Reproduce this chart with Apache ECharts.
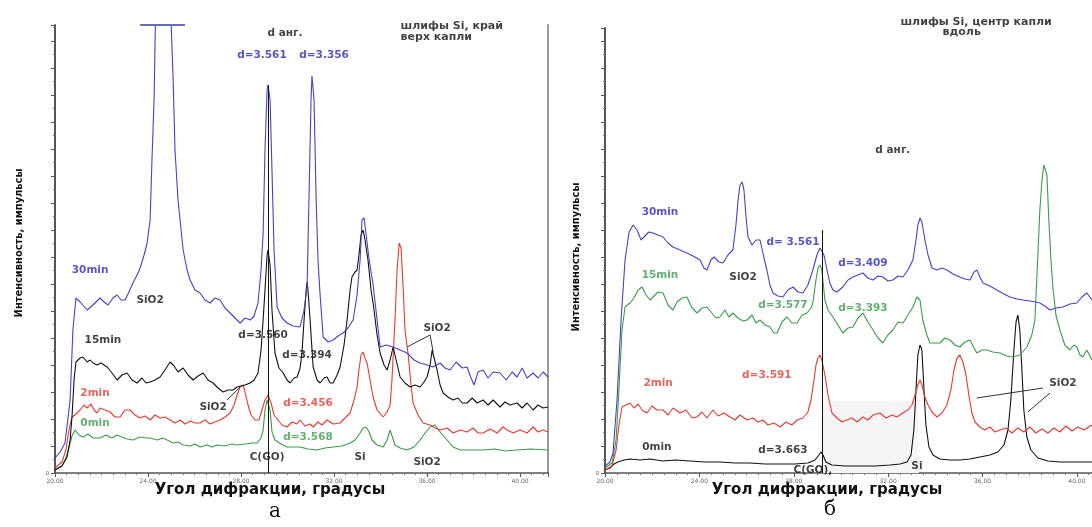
<!DOCTYPE html>
<html><head><meta charset="utf-8">
<script src="https://cdn.jsdelivr.net/npm/echarts@6/dist/echarts.min.js"></script>
<style>html,body{margin:0;padding:0;background:#fff}#c{width:1092px;height:527px}</style>
</head><body><div id="c"></div>
<script>
// ---------- DATA (2θ in degrees, intensity in arbitrary units) ----------
const xTickLabels = ['20.00','24.00','28.00','32.00','36.00','40.00'];

// Panel а (left): шлифы Si, край, верх капли
const L_30min = [[20.00,15],[20.22,21],[20.43,30],[20.65,73],[20.77,143],[20.90,175],[21.08,171],[21.38,163],[21.63,168],[21.94,175],[22.11,171],[22.28,168],[22.49,175],[22.67,178],[22.84,173],[23.01,173],[23.18,181],[23.35,190],[23.53,198],[23.66,205],[23.83,218],[23.96,230],[24.09,253],[24.17,313],[24.26,373],[24.34,480],[24.60,520],[24.95,480],[25.08,393],[25.16,323],[25.29,273],[25.51,223],[25.68,203],[25.81,193],[26.02,183],[26.24,180],[26.45,173],[26.67,170],[26.88,175],[27.10,173],[27.31,165],[27.53,160],[27.74,155],[27.96,150],[28.17,155],[28.39,153],[28.56,157],[28.73,170],[28.86,203],[28.95,240],[29.03,323],[29.12,383],[29.16,388],[29.25,373],[29.33,303],[29.42,223],[29.55,166],[29.76,155],[29.98,150],[30.24,147],[30.54,146],[30.71,163],[30.84,186],[30.92,273],[31.01,373],[31.05,397],[31.14,373],[31.23,273],[31.31,213],[31.40,178],[31.53,136],[31.74,131],[31.96,133],[32.17,137],[32.39,140],[32.60,145],[32.82,153],[32.99,178],[33.12,213],[33.20,253],[33.29,255],[33.38,238],[33.51,213],[33.68,188],[33.85,153],[33.98,126],[34.24,128],[34.54,126],[34.84,123],[35.14,120],[35.44,113],[35.70,110],[36.00,108],[36.26,106],[36.56,110],[36.77,105],[36.99,103],[37.25,111],[37.51,105],[37.72,106],[37.89,95],[38.02,88],[38.19,101],[38.41,103],[38.62,95],[38.84,101],[39.14,100],[39.40,93],[39.66,101],[39.87,96],[40.09,105],[40.30,95],[40.56,100],[40.77,95],[40.99,101],[41.20,96]];
const L_15min = [[20.00,3],[20.30,7],[20.52,16],[20.65,33],[20.73,56],[20.82,93],[20.90,111],[21.08,115],[21.20,116],[21.38,111],[21.51,113],[21.63,110],[21.81,108],[21.98,110],[22.24,106],[22.45,100],[22.67,93],[22.88,98],[23.10,100],[23.31,93],[23.53,90],[23.74,95],[23.91,90],[24.09,91],[24.30,93],[24.52,96],[24.73,103],[24.95,111],[25.12,107],[25.29,101],[25.51,105],[25.72,98],[25.94,93],[26.15,97],[26.37,100],[26.58,93],[26.80,90],[27.01,85],[27.23,81],[27.44,83],[27.66,83],[27.83,86],[28.00,87],[28.17,88],[28.39,90],[28.56,93],[28.73,100],[28.86,123],[28.95,153],[29.03,183],[29.12,218],[29.16,223],[29.25,208],[29.33,163],[29.46,120],[29.63,105],[29.81,100],[29.98,93],[30.11,90],[30.28,95],[30.41,96],[30.54,105],[30.62,120],[30.71,153],[30.80,183],[30.84,191],[30.88,183],[30.97,153],[31.10,106],[31.27,93],[31.40,90],[31.57,95],[31.70,96],[31.83,90],[31.96,90],[32.13,98],[32.26,106],[32.43,128],[32.56,153],[32.69,183],[32.77,196],[32.90,201],[32.99,203],[33.07,218],[33.16,238],[33.25,243],[33.33,233],[33.46,213],[33.59,183],[33.68,170],[33.85,138],[33.98,120],[34.15,108],[34.28,103],[34.41,113],[34.54,126],[34.67,113],[34.84,96],[35.05,90],[35.27,86],[35.48,88],[35.70,86],[35.87,91],[36.00,96],[36.13,108],[36.22,123],[36.30,121],[36.43,103],[36.56,88],[36.69,80],[36.90,76],[37.12,73],[37.33,75],[37.51,70],[37.72,70],[37.94,75],[38.15,70],[38.41,73],[38.62,68],[38.84,73],[39.14,66],[39.35,71],[39.57,68],[39.87,70],[40.09,65],[40.30,70],[40.56,63],[40.77,68],[40.99,65],[41.20,66]];
const L_2min = [[20.00,5],[20.30,11],[20.47,23],[20.60,43],[20.73,56],[20.86,58],[21.08,63],[21.25,68],[21.38,65],[21.55,69],[21.68,63],[21.81,60],[21.94,65],[22.15,63],[22.37,61],[22.58,56],[22.80,56],[23.01,63],[23.23,63],[23.44,58],[23.66,55],[23.87,57],[24.09,53],[24.30,58],[24.52,55],[24.73,56],[24.95,53],[25.16,50],[25.38,53],[25.59,49],[25.81,52],[26.02,50],[26.24,50],[26.45,53],[26.67,49],[26.88,51],[27.10,53],[27.31,56],[27.53,60],[27.70,68],[27.83,78],[27.96,86],[28.09,88],[28.17,81],[28.30,68],[28.43,58],[28.60,53],[28.77,53],[28.90,63],[29.03,73],[29.16,78],[29.29,70],[29.42,58],[29.59,53],[29.76,48],[29.98,46],[30.19,51],[30.41,49],[30.54,53],[30.75,47],[30.97,49],[31.10,46],[31.31,51],[31.48,48],[31.70,53],[31.96,49],[32.26,50],[32.47,55],[32.69,60],[32.86,73],[32.99,86],[33.07,103],[33.16,118],[33.25,121],[33.33,115],[33.42,110],[33.55,93],[33.68,76],[33.85,63],[34.11,56],[34.28,61],[34.41,68],[34.49,93],[34.62,153],[34.71,203],[34.80,230],[34.88,225],[34.97,186],[35.05,143],[35.18,120],[35.31,88],[35.40,70],[35.61,58],[35.83,50],[36.13,48],[36.34,45],[36.56,43],[36.86,45],[37.12,40],[37.42,43],[37.72,41],[37.98,45],[38.19,40],[38.41,40],[38.71,44],[39.01,40],[39.27,46],[39.44,43],[39.70,40],[40.00,43],[40.30,40],[40.56,46],[40.77,41],[40.99,43],[41.20,41]];
const L_0min = [[20.00,3],[20.30,7],[20.47,15],[20.60,25],[20.73,37],[20.86,43],[21.03,38],[21.20,36],[21.42,39],[21.63,35],[21.94,35],[22.19,38],[22.45,35],[22.67,38],[22.88,36],[23.10,34],[23.35,33],[23.66,36],[23.91,35],[24.09,35],[24.39,33],[24.65,35],[24.82,33],[25.08,30],[25.29,31],[25.51,28],[25.81,27],[26.02,29],[26.24,26],[26.54,28],[26.75,26],[26.97,28],[27.31,27],[27.61,29],[27.83,28],[28.17,29],[28.47,30],[28.69,30],[28.86,35],[28.95,43],[29.03,63],[29.12,73],[29.16,75],[29.25,63],[29.33,41],[29.46,33],[29.72,29],[29.98,26],[30.28,26],[30.54,26],[30.88,24],[31.27,23],[31.61,25],[31.96,26],[32.34,27],[32.69,30],[32.90,33],[33.12,40],[33.25,45],[33.38,46],[33.51,41],[33.63,33],[33.85,28],[34.11,26],[34.28,33],[34.41,43],[34.49,41],[34.62,28],[34.84,25],[35.14,23],[35.44,26],[35.70,33],[35.91,40],[36.13,46],[36.34,48],[36.56,41],[36.86,33],[37.12,26],[37.42,23],[37.85,23],[38.41,23],[38.92,24],[39.35,22],[39.87,23],[40.43,24],[41.20,23]];

// Panel б (right): шлифы Si, центр капли, вдоль
const R_30min = [[20.00,7],[20.21,11],[20.34,20],[20.51,73],[20.68,153],[20.85,213],[21.02,241],[21.19,248],[21.36,243],[21.53,233],[21.69,237],[21.86,241],[22.03,240],[22.25,238],[22.46,236],[22.67,230],[22.88,226],[23.18,223],[23.47,220],[23.73,217],[24.03,213],[24.19,205],[24.32,203],[24.49,213],[24.62,216],[24.83,211],[25.00,210],[25.21,218],[25.42,223],[25.55,248],[25.64,273],[25.72,288],[25.81,291],[25.89,283],[25.97,258],[26.06,236],[26.23,228],[26.40,233],[26.57,233],[26.74,215],[26.86,203],[26.99,188],[27.12,180],[27.33,177],[27.54,176],[27.75,183],[27.97,186],[28.18,181],[28.39,180],[28.60,188],[28.81,203],[28.98,218],[29.11,225],[29.19,226],[29.28,218],[29.41,203],[29.53,190],[29.66,183],[29.83,181],[30.08,186],[30.30,193],[30.51,196],[30.72,198],[30.93,200],[31.14,195],[31.36,193],[31.57,197],[31.78,196],[31.99,192],[32.20,193],[32.42,197],[32.63,196],[32.84,203],[33.05,213],[33.18,233],[33.26,248],[33.35,255],[33.43,251],[33.56,233],[33.69,218],[33.86,205],[34.07,203],[34.28,205],[34.49,203],[34.75,199],[35.04,196],[35.25,194],[35.47,193],[35.64,201],[35.76,203],[35.89,196],[36.02,190],[36.31,187],[36.61,183],[36.91,179],[37.16,176],[37.46,174],[37.71,173],[38.01,172],[38.26,171],[38.43,170],[38.64,167],[38.86,163],[39.11,165],[39.41,166],[39.70,169],[40.00,170],[40.21,176],[40.42,180],[40.64,173]];
const R_15min = [[20.00,5],[20.30,10],[20.47,33],[20.59,83],[20.72,143],[20.85,166],[21.06,170],[21.23,175],[21.40,183],[21.57,186],[21.74,178],[21.91,173],[22.08,177],[22.25,181],[22.46,180],[22.67,168],[22.88,163],[23.05,171],[23.26,175],[23.47,176],[23.69,165],[23.90,160],[24.11,165],[24.32,166],[24.53,160],[24.70,155],[24.87,156],[25.08,163],[25.25,156],[25.42,160],[25.64,155],[25.85,152],[26.02,153],[26.23,158],[26.40,150],[26.57,153],[26.78,148],[26.99,146],[27.16,140],[27.29,140],[27.50,151],[27.71,156],[27.92,150],[28.14,150],[28.35,158],[28.56,160],[28.73,165],[28.81,170],[28.94,193],[29.03,205],[29.11,208],[29.19,203],[29.32,173],[29.45,163],[29.66,156],[29.87,148],[30.08,140],[30.30,145],[30.51,146],[30.72,155],[30.93,160],[31.14,151],[31.36,143],[31.57,135],[31.78,130],[31.99,138],[32.20,143],[32.42,151],[32.63,150],[32.84,158],[33.05,166],[33.22,176],[33.35,173],[33.47,153],[33.64,138],[33.77,130],[33.98,130],[34.19,130],[34.41,135],[34.62,133],[34.83,128],[35.04,126],[35.25,131],[35.47,133],[35.64,125],[35.76,120],[35.97,123],[36.19,123],[36.44,121],[36.74,120],[37.03,117],[37.29,116],[37.58,118],[37.88,126],[38.09,138],[38.22,153],[38.35,220],[38.43,263],[38.52,293],[38.60,308],[38.64,310],[38.73,298],[38.81,253],[38.90,213],[38.98,186],[39.11,158],[39.28,143],[39.49,128],[39.70,123],[39.87,128],[40.00,126],[40.13,118],[40.25,116],[40.42,123],[40.64,113]];
const R_2min = [[20.00,3],[20.30,7],[20.47,23],[20.59,48],[20.72,66],[20.89,68],[21.06,70],[21.23,65],[21.40,69],[21.57,63],[21.78,60],[21.99,67],[22.20,63],[22.46,63],[22.67,58],[22.88,65],[23.18,60],[23.43,63],[23.69,55],[23.90,56],[24.11,61],[24.32,55],[24.58,63],[24.79,57],[25.04,60],[25.30,56],[25.51,53],[25.72,58],[26.02,53],[26.27,55],[26.48,51],[26.69,53],[26.91,48],[27.16,50],[27.42,46],[27.67,51],[27.92,48],[28.14,53],[28.39,55],[28.60,61],[28.73,73],[28.86,93],[28.94,108],[29.03,115],[29.11,118],[29.19,113],[29.32,98],[29.45,78],[29.62,60],[29.83,55],[30.04,51],[30.25,53],[30.47,55],[30.68,51],[30.93,56],[31.14,53],[31.36,58],[31.65,60],[31.91,55],[32.16,58],[32.37,56],[32.63,60],[32.84,63],[33.01,68],[33.14,78],[33.26,88],[33.35,93],[33.43,88],[33.56,76],[33.69,68],[33.86,61],[34.07,56],[34.28,60],[34.49,68],[34.66,83],[34.79,103],[34.92,115],[35.04,118],[35.17,111],[35.30,98],[35.42,78],[35.55,60],[35.68,51],[35.89,46],[36.10,43],[36.31,46],[36.53,41],[36.74,43],[36.99,45],[37.25,40],[37.50,45],[37.75,41],[38.01,46],[38.26,40],[38.52,44],[38.77,40],[39.03,45],[39.28,41],[39.53,47],[39.79,42],[40.04,46],[40.30,43],[40.64,48]];
const R_0min = [[20.00,3],[20.21,5],[20.38,9],[20.55,11],[20.81,13],[21.06,14],[21.48,13],[21.91,14],[22.46,12],[22.97,13],[23.60,12],[24.24,11],[24.87,11],[25.51,10],[26.14,10],[26.78,9],[27.42,9],[28.05,9],[28.60,10],[28.90,13],[29.07,18],[29.15,21],[29.24,18],[29.36,11],[29.62,8],[30.17,7],[30.81,7],[31.44,7],[32.08,8],[32.50,9],[32.80,11],[32.97,18],[33.09,43],[33.18,83],[33.26,118],[33.35,128],[33.43,123],[33.52,83],[33.60,48],[33.73,26],[33.90,18],[34.19,14],[34.62,13],[35.04,13],[35.47,14],[35.89,16],[36.31,18],[36.65,21],[36.91,28],[37.08,43],[37.20,73],[37.33,123],[37.42,151],[37.50,158],[37.58,143],[37.67,103],[37.75,63],[37.88,36],[38.05,23],[38.35,15],[38.77,12],[39.28,11],[39.92,11],[40.64,11]];

// Reference lines / markers (data coordinates)
const L_refLine = [[29.16,0],[29.16,388]];     // C(GO) reflex line, panel а
const R_refLine = [[29.19,0],[29.19,243]];     // C(GO) reflex line, panel б
const L_capRange = [23.66, 25.59];             // clipped top of the SiO2 peak (30min)
const R_shade = [[29.19,0],[33.30,72]];
const L_pointers = [[[36.13,138],[35.14,126]],[[36.13,138],[36.26,121]],[[27.40,73],[27.96,86]]];
const R_pointers = [[[38.56,85],[35.76,75]],[[38.86,80],[37.92,61]]];

// Annotations [x, y, text, colour key]
const L_notes = [
  [21.51,203,'30min','30min'],[24.09,173,'SiO2','k'],[22.06,133,'15min','15min'],
  [21.72,80,'2min','2min'],[21.72,50,'0min','0min'],
  [28.95,138,'d=3.560','k'],[30.84,118,'d=3.394','k'],[36.43,145,'SiO2','k'],
  [26.80,66,'SiO2','k'],[30.88,70,'d=3.456','2min'],[30.88,36,'d=3.568','0min'],
  [29.12,16,'C(GO)','k'],[33.12,16,'Si','k'],[36.00,11,'SiO2','k'],
  [29.89,440,'d анг.','k'],[28.90,418,'d=3.561','30min'],[31.57,418,'d=3.356','30min']
];
const L_header = [[34.84,447,'шлифы Si, край'],[34.84,436,'верх капли']];
const R_notes = [
  [32.20,323,'d анг.','k'],[22.33,261,'30min','30min'],[27.97,231,'d= 3.561','30min'],
  [30.93,210,'d=3.409','30min'],[22.33,198,'15min','15min'],[25.85,196,'SiO2','k'],
  [27.54,168,'d=3.577','15min'],[30.93,165,'d=3.393','15min'],[26.86,98,'d=3.591','2min'],
  [22.25,90,'2min','2min'],[39.41,90,'SiO2','k'],[22.20,26,'0min','0min'],
  [27.54,23,'d=3.663','0min'],[28.81,3,'C(GO),','k'],[33.22,7,'Si','k']
];
const R_header = [[32.50,451,'шлифы Si, центр капли'],[34.28,441,'вдоль']];

// ---------- STYLE ----------
const BLUE = '#4343c6', BLACK = '#111111', RED = '#e23a32', GREEN = '#3a9c48';
const L_col = {'30min':BLUE,'15min':BLACK,'2min':RED,'0min':GREEN,'k':BLACK};
const R_col = {'30min':BLUE,'15min':GREEN,'2min':RED,'0min':BLACK,'k':BLACK};
const TXT_BLUE = '#2b2bbe';
const FONT = "'DejaVu Sans', 'Liberation Sans', sans-serif";

function xAx(gi, max) {
  return {type:'value', gridIndex:gi, min:20, max:max, interval:4,
    axisLine:{onZero:false, lineStyle:{color:'#555', width:1.5}},
    axisTick:{length:4, lineStyle:{color:'#555'}},
    minorTick:{show:true, splitNumber:8, length:2, lineStyle:{color:'#777'}},
    splitLine:{show:false},
    axisLabel:{fontSize:6, color:'#666', margin:5, showMaxLabel:false, fontFamily:FONT,
      formatter: v => { const i = Math.round((v-20)/4); return (Math.abs(v-20-4*i)<1e-6 && xTickLabels[i]) ? xTickLabels[i] : ''; }}
  };
}
function yAx(gi, max) {
  return {type:'value', gridIndex:gi, min:0, max:max, interval:27,
    axisLine:{show:true, onZero:false, lineStyle:{color:'#555', width:2}},
    axisTick:{show:true, length:4, lineStyle:{color:'#555'}},
    minorTick:{show:true, splitNumber:2, length:2, lineStyle:{color:'#777'}},
    splitLine:{show:false},
    axisLabel:{fontSize:6, color:'#666', margin:6, formatter: v => v === 0 ? '0' : ''}
  };
}
function line(data, gi, yi, color, extra) {
  return Object.assign({type:'line', data:data, xAxisIndex:gi, yAxisIndex:yi, showSymbol:false, symbol:'none',
    clip:true, silent:true, lineStyle:{color:color, width:1.1}, itemStyle:{color:color}, z:3}, extra || {});
}
function notes(arr, gi, yi, cols) {
  return {type:'scatter', xAxisIndex:gi, yAxisIndex:yi, clip:false, silent:true, symbolSize:1, z:6,
    itemStyle:{color:'rgba(0,0,0,0)'},
    data: arr.map(n => ({value:[n[0],n[1]], label:{show:true, position:'inside', formatter:n[2],
      color: n[3]==='30min' ? TXT_BLUE : cols[n[3]], fontSize:10.5, fontWeight:'bold', fontFamily:FONT}}))};
}
function header(arr, gi, yi) {
  return {type:'scatter', xAxisIndex:gi, yAxisIndex:yi, clip:false, silent:true, symbolSize:1, z:6,
    itemStyle:{color:'rgba(0,0,0,0)'},
    data: arr.map(n => ({value:[n[0],n[1]], label:{show:true, position:'right', distance:0, formatter:n[2],
      color:BLACK, fontSize:11, fontWeight:'bold', fontFamily:FONT}}))};
}
function pointers(arr, gi, yi) {
  return {type:'lines', coordinateSystem:'cartesian2d', xAxisIndex:gi, yAxisIndex:yi, silent:true, z:5,
    lineStyle:{color:'#333', width:1, opacity:1},
    data: arr.map(p => ({coords:p}))};
}

const option = {
  animation:false,
  backgroundColor:'#fff',
  grid:[
    {left:55, top:25, width:493, height:448},
    {left:605, top:28, width:487, height:445}
  ],
  xAxis:[xAx(0, 41.2), xAx(1, 40.64)],
  yAxis:[
    yAx(0, 448), yAx(1, 445),
    {type:'value', gridIndex:0, position:'right', min:0, max:448,
      axisLine:{show:true, lineStyle:{color:'#9a9a9a', width:2}}, axisTick:{show:false},
      axisLabel:{show:false}, splitLine:{show:false}}
  ],
  series:[
    line(L_0min, 0, 0, GREEN),
    line(L_2min, 0, 0, RED),
    line(L_15min, 0, 0, BLACK, {markLine:{silent:true, symbol:'none', label:{show:false},
      lineStyle:{color:BLACK, width:1, type:'solid'},
      data:[[{coord:L_refLine[0]},{coord:L_refLine[1]}]]}}),
    line(L_30min, 0, 0, BLUE, {markLine:{silent:true, symbol:'none', label:{show:false},
      lineStyle:{color:'#6a6ab8', width:2, type:'solid'},
      data:[[{coord:[L_capRange[0],448]},{coord:[L_capRange[1],448]}]]}}),
    line(R_0min, 1, 1, BLACK, {
      markArea:{silent:true, itemStyle:{color:'#f5f5f5'}, data:[[{coord:R_shade[0]},{coord:R_shade[1]}]]},
      markLine:{silent:true, symbol:'none', label:{show:false},
      lineStyle:{color:BLACK, width:1, type:'solid'},
      data:[[{coord:R_refLine[0]},{coord:R_refLine[1]}]]}}),
    line(R_2min, 1, 1, RED),
    line(R_15min, 1, 1, GREEN),
    line(R_30min, 1, 1, BLUE),
    pointers(L_pointers, 0, 0),
    pointers(R_pointers, 1, 1),
    notes(L_notes, 0, 0, L_col),
    notes(R_notes, 1, 1, R_col),
    header(L_header, 0, 0),
    header(R_header, 1, 1)
  ],
  graphic:[
    {type:'text', x:270, y:490, style:{text:'Угол дифракции, градусы', font:"bold 15px 'DejaVu Sans', sans-serif", fill:'#111', align:'center', verticalAlign:'middle'}},
    {type:'text', x:827, y:490, style:{text:'Угол дифракции, градусы', font:"bold 15px 'DejaVu Sans', sans-serif", fill:'#111', align:'center', verticalAlign:'middle'}},
    {type:'text', x:275, y:512, style:{text:'а', font:"20px 'DejaVu Serif', 'Liberation Serif', serif", fill:'#111', align:'center', verticalAlign:'middle'}},
    {type:'text', x:830, y:510, style:{text:'б', font:"20px 'DejaVu Serif', 'Liberation Serif', serif", fill:'#111', align:'center', verticalAlign:'middle'}},
    {type:'text', x:19, y:243, rotation:Math.PI/2, style:{text:'Интенсивность, импульсы', font:"bold 11px 'Liberation Sans Narrow', 'DejaVu Sans Condensed', 'Liberation Sans', sans-serif", fill:'#111', align:'center', verticalAlign:'middle'}},
    {type:'text', x:576, y:257, rotation:Math.PI/2, style:{text:'Интенсивность, импульсы', font:"bold 11px 'Liberation Sans Narrow', 'DejaVu Sans Condensed', 'Liberation Sans', sans-serif", fill:'#111', align:'center', verticalAlign:'middle'}}
  ]
};
const chart = echarts.init(document.getElementById('c'), null, {renderer:'canvas'});
chart.setOption(option);
</script>
</body></html>
